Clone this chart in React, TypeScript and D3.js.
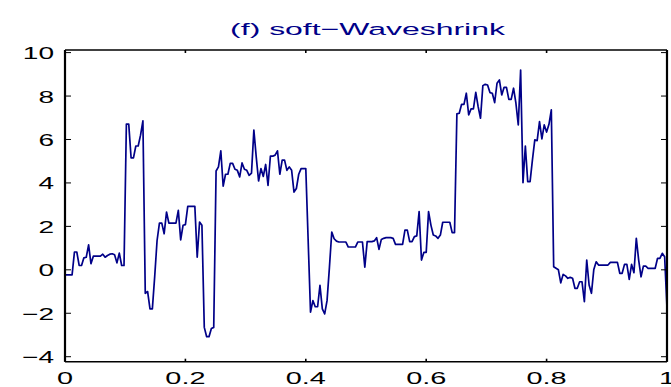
import React from 'react';
import * as d3 from 'd3';

// denoised "blocks" signal, 256 samples on [0, 1]
const signal = [
  -0.23, -0.23, -0.23, -0.23, 0.82, 0.82, 0.2, 0.2, 0.55, 0.58,
  1.15, 0.28, 0.63, 0.63, 0.63, 0.63, 0.72, 0.58, 0.66, 0.72,
  0.74, 0.69, 0.32, 0.77, 0.2, 0.2, 6.71, 6.71, 5.15, 5.15,
  5.7, 5.7, 6.2, 6.86, -1.08, -1.0, -1.8, -1.8, -0.3, 1.35,
  2.15, 2.15, 1.66, 2.66, 2.15, 2.15, 2.15, 2.15, 2.74, 1.38,
  2.05, 2.08, 2.92, 2.92, 2.92, 2.92, 0.58, 2.2, 2.05, -2.65,
  -3.08, -3.08, -2.7, -2.65, 4.55, 4.74, 5.48, 3.85, 4.4, 4.4,
  4.9, 4.9, 4.63, 4.58, 4.28, 4.92, 4.63, 4.58, 4.35, 4.45,
  6.43, 5.2, 4.09, 4.66, 4.3, 4.85, 3.89, 5.23, 5.23, 5.28,
  5.48, 4.4, 5.05, 5.05, 4.58, 4.74, 4.58, 3.58, 3.74, 4.4,
  4.66, 4.66, 4.66, 1.35, -1.95, -1.42, -1.7, -1.7, -0.72, -1.8,
  -2.03, -1.42, 0.1, 1.74, 1.43, 1.32, 1.28, 1.28, 1.28, 1.28,
  1.05, 1.05, 1.05, 1.05, 1.28, 1.28, 1.28, 0.12, 1.3, 1.3,
  1.3, 1.33, 1.48, 0.94, 1.4, 1.45, 1.48, 1.48, 1.48, 1.45,
  1.17, 1.17, 1.17, 1.17, 1.83, 1.83, 1.3, 1.3, 1.53, 1.56,
  2.68, 0.45, 0.8, 0.8, 2.68, 2.06, 1.6, 1.56, 1.45, 1.6,
  2.19, 2.19, 2.19, 2.19, 1.71, 1.71, 7.18, 7.21, 7.62, 7.62,
  8.13, 7.13, 7.41, 7.41, 8.17, 7.51, 6.98, 8.48, 8.54, 8.51,
  8.16, 8.13, 7.7, 8.59, 8.74, 8.05, 8.4, 8.4, 7.85, 7.85,
  8.36, 7.67, 6.67, 9.2, 4.01, 5.7, 4.06, 4.06, 5.06, 5.98,
  5.95, 6.82, 6.03, 6.67, 6.34, 6.7, 7.36, 0.14, 0.07, 0.0,
  -0.6, -0.21, -0.28, -0.39, -0.35, -0.39, -0.85, -0.85, -0.55, -0.55,
  -1.47, 0.45, -0.7, -1.08, 0.02, 0.37, 0.22, 0.22, 0.22, 0.22,
  0.22, 0.34, 0.34, 0.34, 0.34, -0.16, -0.16, 0.25, 0.25, -0.44,
  0.25, -0.13, 1.45, 0.45, -0.32, 0.17, 0.17, 0.07, 0.07, 0.07,
  0.07, 0.53, 0.53, 0.76, 0.6, -1.77,
];

const xTicks = [0, 0.2, 0.4, 0.6, 0.8, 1];
const yTicks = [-4, -2, 0, 2, 4, 6, 8, 10];
const title = '(f) soft\u2212Waveshrink';

const W = 671;
const H = 387;
const left = 65;
const right = 667;
const top = 50;
const bottom = 361.7;
const navy = '#000088';
const font = '"Liberation Sans", Arial, sans-serif';

const fmt = (v: number) => String(v).replace('-', '\u2212');

const App = () => {
  const x = d3.scaleLinear().domain([0, 1]).range([left, right]);
  const y = d3.scaleLinear().domain([-4.23, 10.12]).range([bottom, top]);
  const n = signal.length;

  const line = d3
    .line<number>()
    .x((_, i) => x(i / (n - 1)))
    .y((d) => y(d));

  return (
    <svg
      width={W}
      height={H}
      style={{ position: 'absolute', left: 0, top: 0, background: '#fff' }}
    >
      <text
        transform={`translate(${(left + right) / 2 + 1.5},35) scale(1.88,1)`}
        textAnchor="middle"
        fontFamily={font}
        fontSize={17}
        fill={navy}
      >
        {title}
      </text>

      <path d={line(signal) ?? ''} fill="none" stroke={navy} strokeWidth={1.7} strokeLinejoin="round" />

      {/* frame */}
      <line x1={left} x2={right} y1={top} y2={top} stroke="#000" strokeWidth={1.4} />
      <line x1={left} x2={right} y1={bottom} y2={bottom} stroke="#000" strokeWidth={1.4} />
      <line x1={left} x2={left} y1={top} y2={bottom} stroke="#000" strokeWidth={2.2} />
      <line x1={right} x2={right} y1={top} y2={bottom} stroke="#000" strokeWidth={2.2} />

      {xTicks.map((t) => (
        <g key={'x' + t}>
          <line x1={x(t)} x2={x(t)} y1={bottom} y2={bottom - 3} stroke="#000" strokeWidth={1.6} />
          <line x1={x(t)} x2={x(t)} y1={top} y2={top + 3} stroke="#000" strokeWidth={1.6} />
          <text
            transform={`translate(${x(t)},383.5) scale(1.7,1)`}
            textAnchor="middle"
            fontFamily={font}
            fontSize={17}
            fill="#000"
          >
            {fmt(t)}
          </text>
        </g>
      ))}

      {yTicks.map((t) => (
        <g key={'y' + t}>
          <line x1={left} x2={left + 6} y1={y(t)} y2={y(t)} stroke="#000" strokeWidth={1} />
          <line x1={right} x2={right - 6} y1={y(t)} y2={y(t)} stroke="#000" strokeWidth={1} />
          <text
            transform={`translate(54,${y(t) + 6.5}) scale(1.65,1)`}
            textAnchor="end"
            fontFamily={font}
            fontSize={17}
            fill="#000"
          >
            {fmt(t)}
          </text>
        </g>
      ))}
    </svg>
  );
};

export default App;
